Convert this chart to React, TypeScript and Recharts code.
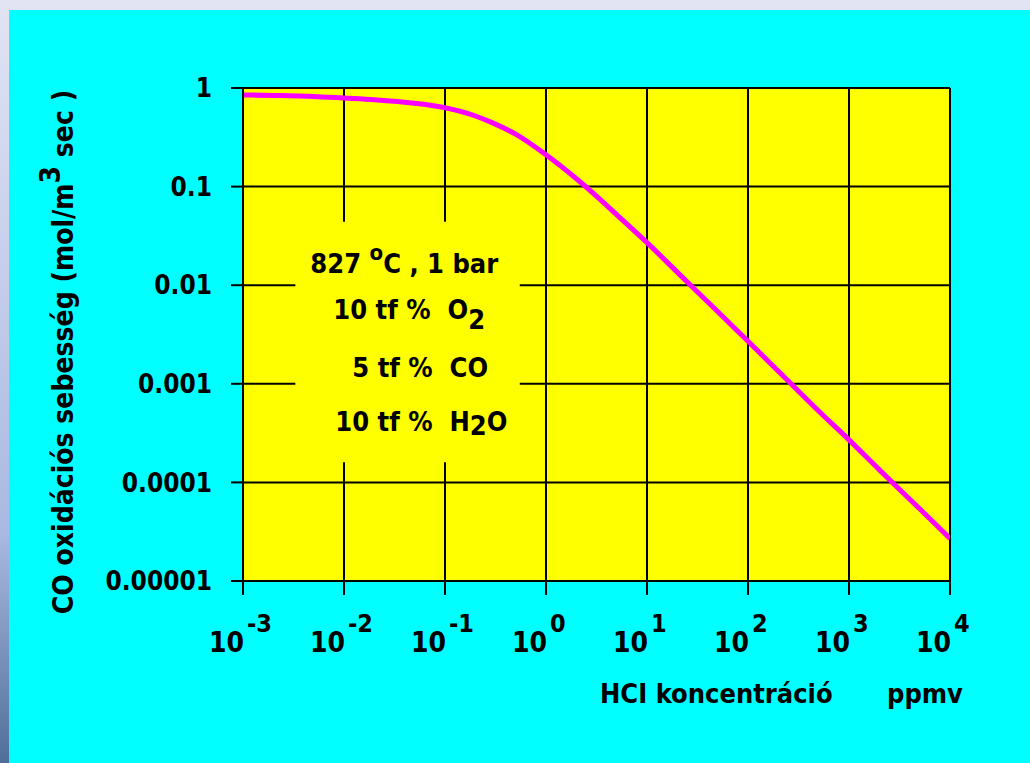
import React from "react";
import { LineChart, Line, XAxis, YAxis, CartesianGrid, ReferenceArea } from "recharts";

// HCl concentration (ppmv) vs CO oxidation rate (mol/m3 sec)
const hclPpmv = [0.001, 0.002, 0.005, 0.01, 0.02, 0.05, 0.1, 0.2, 0.3, 0.5, 1, 2, 3, 5, 10, 20, 50, 100, 200, 500, 1000, 2000, 5000, 10000];
const coRate = [0.85, 0.84, 0.82, 0.79, 0.76, 0.7, 0.63, 0.52, 0.44, 0.34, 0.21, 0.12, 0.084, 0.052, 0.027, 0.0135, 0.0054, 0.0027, 0.00134, 0.00053, 0.00027, 0.000134, 0.000054, 0.000027];

const xTicks = [0.001, 0.01, 0.1, 1, 10, 100, 1000, 10000];
const yTicks = [0.00001, 0.0001, 0.001, 0.01, 0.1, 1];

// box behind the conditions text (grid is hidden there)
const boxX = [0.0033, 0.55];
const boxY = [0.00016, 0.044];

const data = hclPpmv.map((x, i) => ({ x, y: coRate[i] }));

const FONT = "'DejaVu Sans Condensed', 'DejaVu Sans', sans-serif";

const yLabel = (v: number) => (v >= 1 ? "1" : v.toFixed(Math.round(-Math.log10(v))));

function XTick(props: any) {
  const { x, y, payload } = props;
  const exp = Math.round(Math.log10(payload.value));
  return (
    <g fontFamily={FONT} fontWeight="bold" fill="#000">
      <text x={x + 1} y={y + 55} textAnchor="end" fontSize={28}>10</text>
      <text x={x + 4} y={y + 35} textAnchor="start" fontSize={25}>{exp < 0 ? "-" + -exp : exp}</text>
    </g>
  );
}

function BoxText(props: any) {
  const vb = props.viewBox || {};
  const bx = vb.x ?? 0;
  const by = vb.y ?? 0;
  const st = { whiteSpace: "pre" as const };
  return (
    <g fontFamily={FONT} fontWeight="bold" fontSize={27} fill="#000">
      <text x={bx + 15} y={by + 51} style={st}>
        827 <tspan fontSize={22} dy={-13}>o</tspan><tspan dy={13}>C , 1 bar</tspan>
      </text>
      <text x={bx + 38} y={by + 97} style={st}>
        10 tf %  O<tspan dy={10}>2</tspan>
      </text>
      <text x={bx + 57} y={by + 155} style={st}>
        5 tf %  CO
      </text>
      <text x={bx + 40} y={by + 209} style={st}>
        10 tf %  H<tspan dy={4}>2</tspan><tspan dy={-4}>O</tspan>
      </text>
    </g>
  );
}

function YTitle() {
  return (
    <text
      transform="translate(64 342) rotate(-90)"
      textAnchor="middle"
      fontFamily={FONT}
      fontWeight="bold"
      fontSize={28}
      fill="#000"
      style={{ whiteSpace: "pre" }}
    >
      CO oxidációs sebesség (mol/m<tspan dy={-13}>3</tspan><tspan dy={13}> sec )</tspan>
    </text>
  );
}

function XTitle() {
  return (
    <g fontFamily={FONT} fontWeight="bold" fontSize={27} fill="#000">
      <text x={591} y={693}>HCI koncentráció</text>
      <text x={878} y={693}>ppmv</text>
    </g>
  );
}

export default function App() {
  return (
    <div
      style={{
        position: "absolute",
        left: 0,
        top: 0,
        width: 1030,
        height: 763,
        background: "linear-gradient(180deg, #e2e4f4 0%, #a9b9e2 70%, #4f6f98 100%)",
      }}
    >
      <div style={{ position: "absolute", left: 9, top: 10, width: 1021, height: 753, background: "#00FFFF" }}>
        <LineChart width={1021} height={753} data={data} margin={{ top: 78, right: 80, bottom: 0, left: 0 }}>
          <CartesianGrid stroke="#000" strokeWidth={2} fill="#FFFF00" fillOpacity={1} />
          <XAxis
            dataKey="x"
            type="number"
            scale="log"
            domain={[0.001, 10000]}
            ticks={xTicks}
            allowDataOverflow
            height={182}
            tickSize={14}
            axisLine={{ stroke: "#000", strokeWidth: 2 }}
            tickLine={{ stroke: "#000", strokeWidth: 2 }}
            tick={<XTick />}
            interval={0}
            label={{ content: () => <XTitle /> }}
          />
          <YAxis
            dataKey="y"
            type="number"
            scale="log"
            domain={[0.00001, 1]}
            ticks={yTicks}
            allowDataOverflow
            width={234}
            tickSize={12}
            tickMargin={19}
            interval={0}
            tickFormatter={yLabel}
            axisLine={{ stroke: "#000", strokeWidth: 2 }}
            tickLine={{ stroke: "#000", strokeWidth: 2 }}
            tick={{ fill: "#000", fontSize: 26, fontWeight: "bold", fontFamily: FONT }}
            label={{ content: () => <YTitle /> }}
          />
          <ReferenceArea
            x1={boxX[0]}
            x2={boxX[1]}
            y1={boxY[0]}
            y2={boxY[1]}
            fill="#FFFF00"
            fillOpacity={1}
            stroke="none"
            label={(p: any) => <BoxText {...p} />}
          />
          <Line
            type="monotone"
            dataKey="y"
            stroke="#FF00FF"
            strokeWidth={5}
            dot={false}
            activeDot={false}
            isAnimationActive={false}
          />
        </LineChart>
      </div>
    </div>
  );
}
